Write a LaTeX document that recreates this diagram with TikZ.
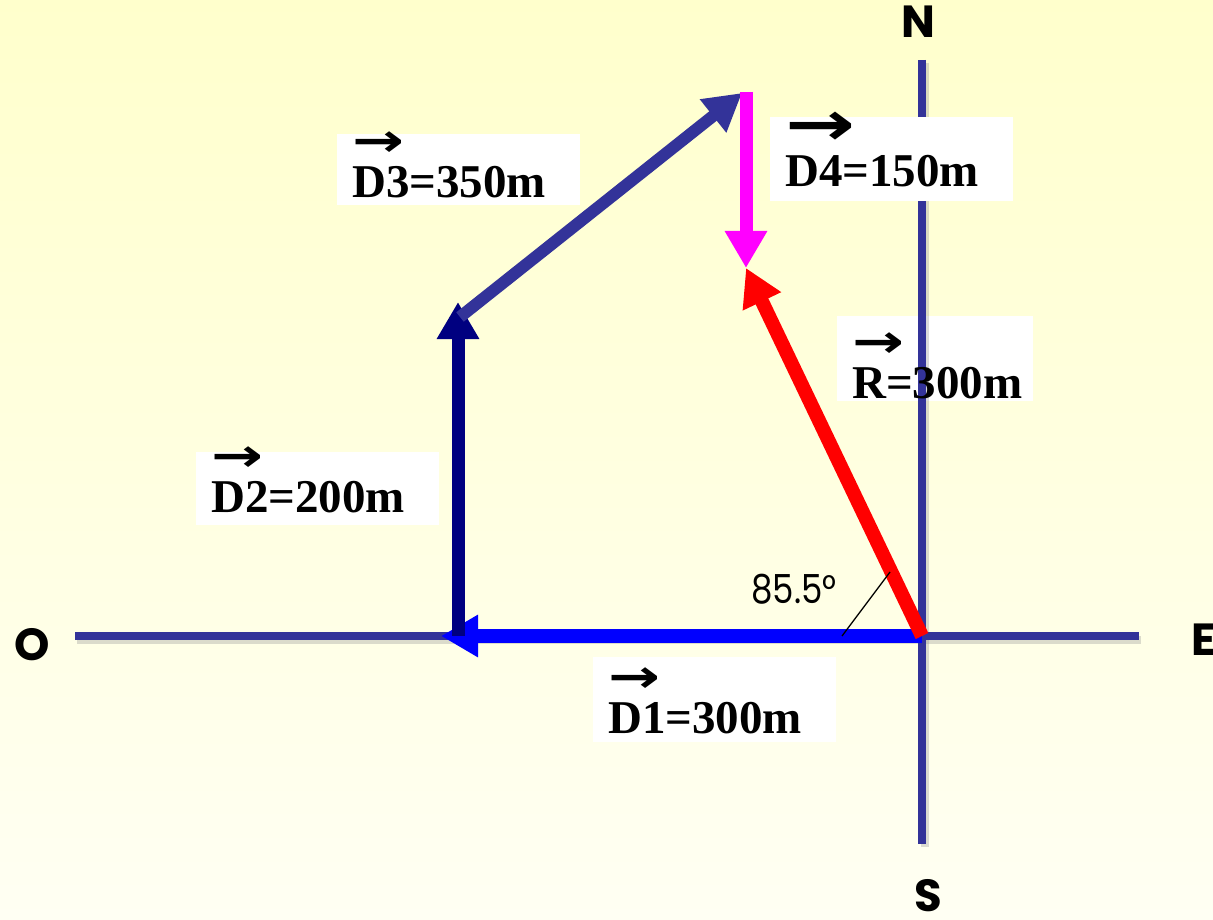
\documentclass[tikz,border=0pt]{standalone}
\usepackage{fontspec}
\setmainfont{Liberation Serif}
\newfontfamily\compassfont{Poppins}
\newfontfamily\anglefont[FakeStretch=0.85]{Poppins}
\newfontfamily\arrowfont[FakeStretch=1.35]{DejaVu Sans}
\usepackage{xcolor}
\usepackage{tikz}
\usetikzlibrary{arrows.meta, positioning}
\pgfdeclarelayer{background}
\pgfsetlayers{background,main}
\definecolor{axisblue}{RGB}{51,51,153}
\definecolor{navyvec}{RGB}{0,0,128}
\definecolor{magvec}{RGB}{255,0,255}
\definecolor{redvec}{RGB}{255,0,0}
\definecolor{bluevec}{RGB}{0,0,255}
\definecolor{bgtop}{RGB}{255,255,204}
\definecolor{bgbottom}{RGB}{255,255,243}
% small arrow over a vector name
\newcommand{\vecarr}[1][46]{\makebox[0pt][l]{\raisebox{41pt}{\arrowfont\fontsize{#1}{#1}\selectfont →}}}
\tikzset{
  axis/.style       = {line width=8pt, axisblue},
  axisshadow/.style = {line width=8pt, black!40, opacity=.35},
  vec/.style        = {line width=13pt, -{Triangle[length=37pt,width=40pt]}},
  lbl/.style        = {fill=white, anchor=base west, align=left, text width=213pt,
                       inner xsep=15pt, inner ysep=0pt,
                       font=\fontsize{47}{50}\selectfont\bfseries},
  compass/.style    = {font=\compassfont\fontsize{45}{50}\selectfont\bfseries},
  anglemark/.style  = {line width=1.3pt, black}
}

\begin{document}
\begin{tikzpicture}[x=1pt, y=-1pt]
  \useasboundingbox (0,0) rectangle (1213,920);
  % axes ends
  \coordinate (Wend) at (75,636);
  \coordinate (Eend) at (1139,636);
  \coordinate (Nend) at (922,60);
  \coordinate (Send) at (922,844);
  % walk points
  \coordinate (S0)  at (922,636);
  \coordinate (P1)  at (441,636);
  \coordinate (P1b) at (458,636);
  \coordinate (P2)  at (458,302);
  \coordinate (P2b) at (460,317);
  \coordinate (P3)  at (742,93);
  \coordinate (P3b) at (746,92);
  \coordinate (P4)  at (746,268);
  \coordinate (M1)  at (842,636);
  \coordinate (M2)  at (890,572);

  % vectors
  \draw[vec, bluevec, line width=14pt] (S0) -- (P1);
  \draw[vec, navyvec] (P1b) -- (P2);
  \draw[vec, axisblue, line width=12pt] (P2b) -- (P3);
  \draw[vec, magvec] (P3b) -- (P4);
  \draw[vec, redvec, line width=14pt] (S0) -- (P4);
  \draw[anglemark] (M1) -- (M2);

  % labels
  \node[lbl, text height=64pt, text depth=7pt] (labD3) at (337,198) {\vecarr D3=350m};
  \node[lbl, text height=60pt, text depth=13pt] (labD2) at (196,512) {\vecarr D2=200m};
  \node[lbl, text height=70pt, text depth=14pt] (labD4) at (770,187) {\vecarr[62]D4=150m};
  \node[lbl, fill=none, text width=166pt, text height=82pt, text depth=3pt] (labR) at (837,398) {\vecarr R=300m};
  \node[lbl, text height=76pt, text depth=9pt] (labD1) at (593,733) {\vecarr D1=300m};
  \node[font=\anglefont\fontsize{40}{44}\selectfont] (ang) at (794,589) {85.5°};

  \node[compass] (N) at (918,22) {N};
  \node[compass] (S) at (928,896) {S};
  \node[compass] (E) at (1204,640) {E};
  \node[compass] (O) at (32,645) {O};

  \begin{pgfonlayer}{background}
    \shade[top color=bgtop, bottom color=bgbottom] (0,0) rectangle (1213,920);
    \fill[white] (labR.south west) rectangle (labR.north east);
    \draw[axisshadow, transform canvas={shift={(2pt,-4pt)}}] (Wend) -- (Eend);
    \draw[axisshadow, transform canvas={shift={(3pt,-3pt)}}] (Nend) -- (Send);
    \draw[axis] (Wend) -- (Eend);
    \draw[axis] (Nend) -- (Send);
  \end{pgfonlayer}
\end{tikzpicture}
\end{document}
